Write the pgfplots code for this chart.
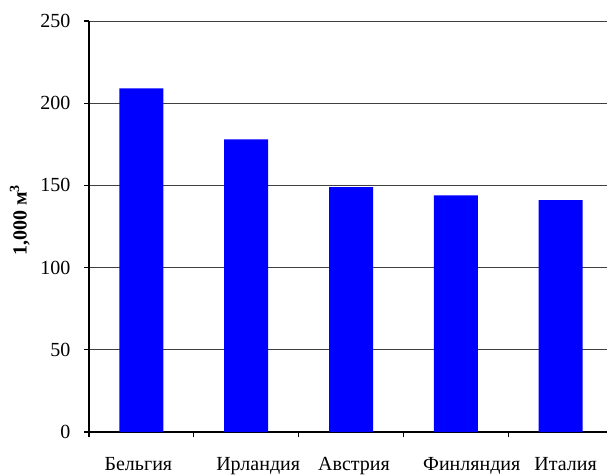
\documentclass[border=0pt]{standalone}
\usepackage{pgfplots}
\pgfplotsset{compat=1.18}
\usepackage{fontspec}
\setmainfont{Liberation Serif}
\begin{document}
\begin{tikzpicture}[font=\rmfamily\fontsize{20}{23}\selectfont]
\path[use as bounding box] (-89pt,-42pt) rectangle (518pt,432pt);
\begin{axis}[
  at={(0pt,0pt)}, anchor=south west,
  width=524pt, height=411pt, scale only axis,
  xmin=-0.5, xmax=4.5, ymin=0, ymax=250,
  axis x line*=bottom, axis y line*=left,
  axis line style={line width=1.3pt, black},
  ybar, bar width=44pt,
  ytick={0,50,...,250},
  yticklabel={\pgfmathprintnumber{\tick}},
  ymajorgrids, grid style={line width=0.9pt, black!75},
  tick align=outside, major tick length=5pt,
  tick style={line width=1.3pt, black},
  xtick={-0.5,0.5,...,4.5}, xticklabels={},
  extra x ticks={0,1,2,3,4},
  extra x tick labels={{Бельгия\hspace*{6pt}},{\hspace*{24pt}Ирландия},{\hspace*{6pt}Австрия},{\hspace*{32pt}Финляндия},{\hspace*{10pt}Италия}},
  extra x tick style={major tick length=0pt, grid=none, xticklabel style={yshift=-22pt}},
  /pgf/number format/assume math mode=true,
  ticklabel style={font=\rmfamily\fontsize{20}{23}\selectfont},
  yticklabel style={xshift=-10pt},
  ylabel={\bfseries 1,000 м\textsuperscript{3}},
  ylabel style={at={(axis description cs:-0.132,0.515)}, anchor=center, font=\rmfamily\fontsize{20}{23}\selectfont},
]
\addplot[fill=blue, draw=none] coordinates {(0,209) (1,178) (2,149) (3,144) (4,141)};
\end{axis}
\end{tikzpicture}
\end{document}
